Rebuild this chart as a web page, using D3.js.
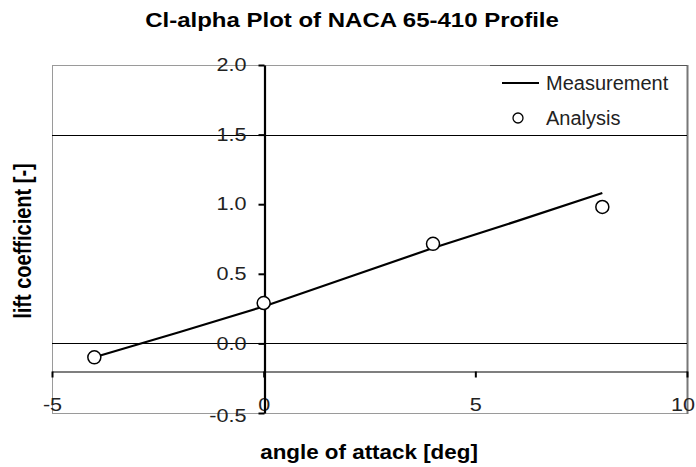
<!DOCTYPE html>
<html>
<head>
<meta charset="utf-8">
<script src="https://cdn.jsdelivr.net/npm/d3@7"></script>
<style>
  html, body { margin: 0; padding: 0; background: #fff; }
  svg { display: block; font-family: "Liberation Sans", Arial, sans-serif; }
</style>
</head>
<body>
<svg id="chart" width="696" height="467"></svg>
<script>
// Lift coefficient vs. angle of attack, NACA 65-410
const measAlpha = [-4, -2, 0, 2, 4, 6, 8];
const measCl    = [-0.10, 0.08, 0.265, 0.475, 0.685, 0.88, 1.08];
const anaAlpha  = [-4, 0, 4, 8];
const anaCl     = [-0.10, 0.29, 0.715, 0.98];
const xTicks    = [-5, 0, 5, 10];
const yTicks    = [-0.5, 0.0, 0.5, 1.0, 1.5, 2.0];
const gridCl    = [1.5, 0.0];
const xAxisCrossCl = -0.2;
const titleText  = "Cl-alpha Plot of NACA 65-410 Profile";
const xLabelText = "angle of attack [deg]";
const yLabelText = "lift coefficient [-]";
const legendLabels = ["Measurement", "Analysis"];

const svg = d3.select("#chart");
const W = 696;
const plot = { left: 52, right: 687, top: 65, bottom: 413 };
const sx = 1.2; // horizontal text widening

// plain hyphen-minus for negative tick values
const loc = d3.formatLocale({ decimal: ".", thousands: ",", grouping: [3], currency: ["", ""], minus: "-" });

const x = d3.scaleLinear().domain([-5, 10]).range([plot.left, plot.right]);
const y = d3.scaleLinear().domain([-0.5, 2.0]).range([plot.bottom, plot.top]);

// plot frame
svg.append("rect")
  .attr("x", plot.left + 0.5).attr("y", plot.top + 0.5)
  .attr("width", plot.right - plot.left).attr("height", plot.bottom - plot.top)
  .attr("fill", "none").attr("stroke", "#9a9a9a").attr("stroke-width", 1);
svg.append("line")
  .attr("x1", plot.right + 0.5).attr("x2", plot.right + 0.5)
  .attr("y1", plot.top).attr("y2", plot.bottom + 1)
  .attr("stroke", "#777").attr("stroke-width", 2);

// gridlines
svg.append("g").selectAll("line").data(gridCl).join("line")
  .attr("x1", plot.left).attr("x2", plot.right)
  .attr("y1", d => Math.round(y(d)) + 0.5).attr("y2", d => Math.round(y(d)) + 0.5)
  .attr("stroke", "#000").attr("stroke-width", 1);

// x axis (crossing the y axis below zero)
const xAxisY = Math.round(y(xAxisCrossCl)) + 0.5;
const gx = svg.append("g").attr("transform", `translate(0,${xAxisY})`)
  .call(d3.axisBottom(x).tickValues(xTicks).tickFormat(loc.format("d"))
    .tickSizeInner(6).tickSizeOuter(0).tickPadding(21));
gx.select(".domain").attr("stroke", "#000").attr("stroke-width", 1.2);
gx.selectAll(".tick line").attr("stroke", "#000").attr("stroke-width", 2);
gx.selectAll(".tick text")
  .attr("font-size", 18).attr("fill", "#222").attr("font-family", "Liberation Sans, Arial, sans-serif")
  .each(function (d) {
    const t = d3.select(this);
    const ty = +t.attr("y");
    // keep the last label inside the page edge
    const shift = d === xTicks[xTicks.length - 1] ? Math.min(0, W - 1 - x(d) - 12.5) : 0;
    t.attr("y", 0).attr("transform", `translate(${shift},${ty}) scale(${sx},1)`);
  });

// y axis at zero angle of attack
const gy = svg.append("g").attr("transform", `translate(${Math.round(x(0)) + 0.5},0)`)
  .call(d3.axisLeft(y).tickValues(yTicks).tickFormat(loc.format(".1f"))
    .tickSizeInner(6).tickSizeOuter(0).tickPadding(12));
gy.select(".domain").attr("stroke", "#000").attr("stroke-width", 2.2);
gy.selectAll(".tick line").attr("stroke", "#000").attr("stroke-width", 2);
gy.selectAll(".tick text")
  .attr("font-size", 18).attr("fill", "#222").attr("font-family", "Liberation Sans, Arial, sans-serif")
  .each(function () {
    const t = d3.select(this);
    const tx = +t.attr("x");
    t.attr("x", 0).attr("transform", `translate(${tx},0) scale(${sx},1)`);
  });
gy.selectAll(".tick").filter(d => d === -0.5).select("text")
  .attr("dy", "0.45em");

// measurement curve
const meas = measAlpha.map((a, i) => [a, measCl[i]]);
svg.append("path").datum(meas)
  .attr("d", d3.line().x(d => x(d[0])).y(d => y(d[1])))
  .attr("fill", "none").attr("stroke", "#000").attr("stroke-width", 2.2);

// analysis points
const ana = anaAlpha.map((a, i) => [a, anaCl[i]]);
svg.append("g").selectAll("circle").data(ana).join("circle")
  .attr("cx", d => x(d[0])).attr("cy", d => y(d[1])).attr("r", 6.5)
  .attr("fill", "#fff").attr("stroke", "#000").attr("stroke-width", 1.5);

// legend
svg.append("line")
  .attr("x1", 490).attr("x2", plot.right).attr("y1", plot.top + 0.5).attr("y2", plot.top + 0.5)
  .attr("stroke", "#555").attr("stroke-width", 1);
const lg = svg.append("g");
lg.append("line").attr("x1", 502).attr("x2", 539).attr("y1", 83).attr("y2", 83)
  .attr("stroke", "#000").attr("stroke-width", 2);
lg.append("circle").attr("cx", 518).attr("cy", 118).attr("r", 5)
  .attr("fill", "#fff").attr("stroke", "#000").attr("stroke-width", 1.3);
lg.selectAll("text").data(legendLabels).join("text")
  .attr("x", 546).attr("y", (d, i) => 83 + i * 35).attr("dy", "0.36em")
  .attr("font-size", 20).attr("fill", "#222").text(d => d);

// titles
svg.append("text")
  .attr("transform", `translate(352,20) scale(${sx},1)`)
  .attr("text-anchor", "middle").attr("dy", "0.36em")
  .attr("font-size", 20).attr("font-weight", "bold").attr("fill", "#000")
  .text(titleText);
svg.append("text")
  .attr("transform", `translate(369,452) scale(1.12,1)`)
  .attr("text-anchor", "middle").attr("dy", "0.36em")
  .attr("font-size", 20).attr("font-weight", "bold").attr("fill", "#000")
  .text(xLabelText);
svg.append("text")
  .attr("transform", `translate(22,241) scale(${sx},1) rotate(-90)`)
  .attr("text-anchor", "middle").attr("dy", "0.36em")
  .attr("font-size", 20).attr("font-weight", "bold").attr("fill", "#000")
  .text(yLabelText);
</script>
</body>
</html>
